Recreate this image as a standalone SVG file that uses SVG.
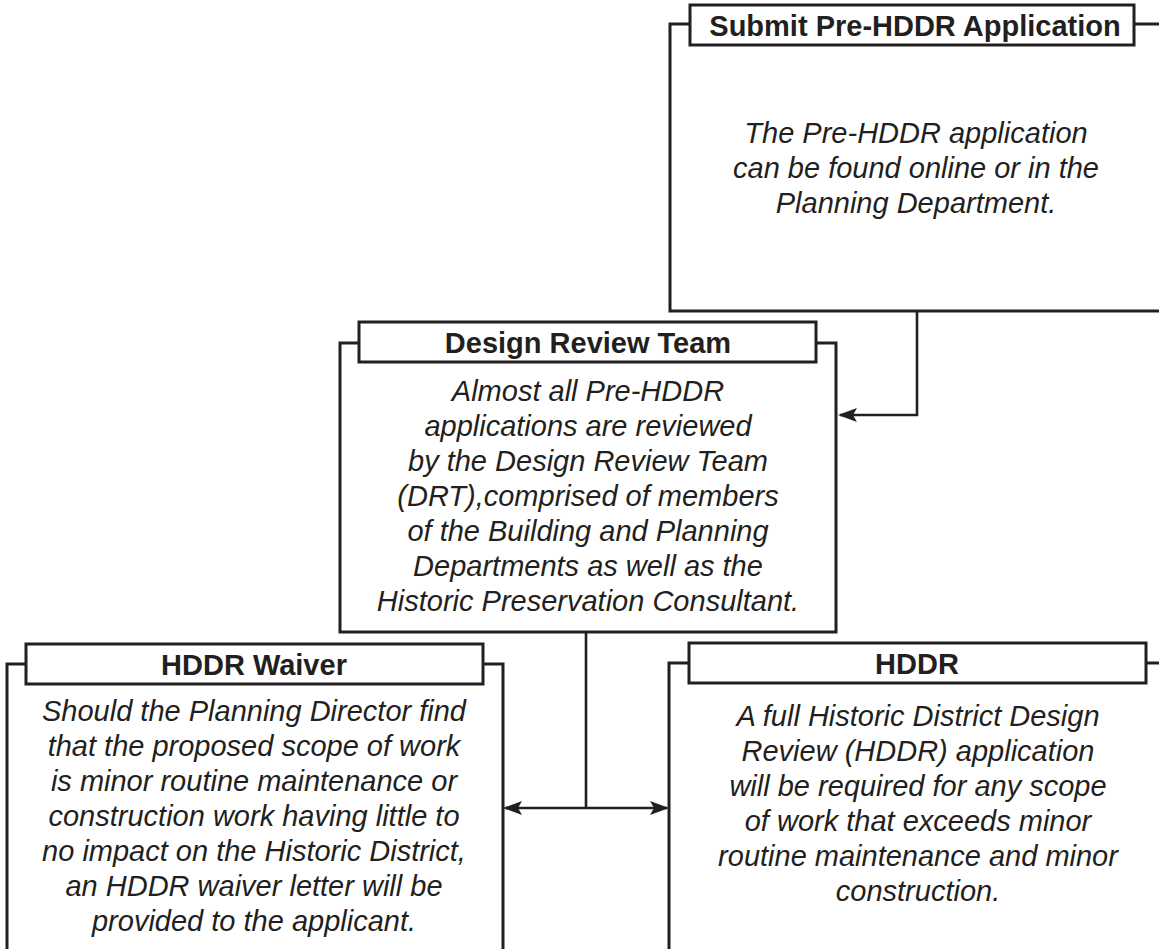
<svg xmlns="http://www.w3.org/2000/svg" width="1159" height="949" viewBox="0 0 1159 949">
<style>
.frame{fill:none;stroke:#231f20;stroke-width:3}
.title{fill:#ffffff;stroke:#231f20;stroke-width:3}
.tt{font-family:"Liberation Sans",Arial,sans-serif;font-weight:bold;font-size:29px;fill:#231f20;text-anchor:middle}
.bt{font-family:"Liberation Sans",Arial,sans-serif;font-style:italic;font-size:29px;fill:#231f20;text-anchor:middle}
.conn{fill:none;stroke:#231f20;stroke-width:2.6}
</style>
<defs>
<marker id="ah" viewBox="0 0 19 14" refX="17" refY="7" markerWidth="19" markerHeight="14" markerUnits="userSpaceOnUse" orient="auto-start-reverse">
<path d="M0,0 L19,7 L0,14 L4,7 z" fill="#231f20"/>
</marker>
</defs>
<rect width="1159" height="949" fill="#ffffff"/>

<g id="connectors">
<path class="conn" d="M917,311 V415 H840" marker-end="url(#ah)"/>
<path class="conn" d="M586,632 V808"/>
<path class="conn" d="M505,808 H667" marker-start="url(#ah)" marker-end="url(#ah)"/>
</g>

<g id="node-submit">
<path class="frame" d="M690,24 H670 V311 H1170"/>
<path class="frame" d="M1134,24 H1170"/>
<rect class="title" x="690" y="5" width="444" height="40"/>
<text class="tt" x="915" y="36">Submit Pre-HDDR Application</text>
<text class="bt" x="916" y="143">The Pre-HDDR application</text>
<text class="bt" x="916" y="178">can be found online or in the</text>
<text class="bt" x="916" y="213">Planning Department.</text>
</g>

<g id="node-drt">
<path class="frame" d="M359,343 H340 V632 H836 V343 H816"/>
<rect class="title" x="359" y="322" width="457" height="40"/>
<text class="tt" x="588" y="353">Design Review Team</text>
<text class="bt" x="588" y="401">Almost all Pre-HDDR</text>
<text class="bt" x="588" y="436">applications are reviewed</text>
<text class="bt" x="588" y="471">by the Design Review Team</text>
<text class="bt" x="588" y="506">(DRT),comprised of members</text>
<text class="bt" x="588" y="541">of the Building and Planning</text>
<text class="bt" x="588" y="576">Departments as well as the</text>
<text class="bt" x="588" y="611">Historic Preservation Consultant.</text>
</g>

<g id="node-waiver">
<path class="frame" d="M26,664 H7 V960"/>
<path class="frame" d="M483,664 H503 V960"/>
<rect class="title" x="26" y="644" width="457" height="40"/>
<text class="tt" x="254" y="675">HDDR Waiver</text>
<text class="bt" x="254" y="721">Should the Planning Director find</text>
<text class="bt" x="254" y="756">that the proposed scope of work</text>
<text class="bt" x="254" y="791">is minor routine maintenance or</text>
<text class="bt" x="254" y="826">construction work having little to</text>
<text class="bt" x="254" y="861">no impact on the Historic District,</text>
<text class="bt" x="254" y="896">an HDDR waiver letter will be</text>
<text class="bt" x="254" y="931">provided to the applicant.</text>
</g>

<g id="node-hddr">
<path class="frame" d="M689,663 H669 V960"/>
<path class="frame" d="M1146,663 H1170"/>
<rect class="title" x="689" y="643" width="457" height="40"/>
<text class="tt" x="917" y="674">HDDR</text>
<text class="bt" x="918" y="726">A full Historic District Design</text>
<text class="bt" x="918" y="761">Review (HDDR) application</text>
<text class="bt" x="918" y="796">will be required for any scope</text>
<text class="bt" x="918" y="831">of work that exceeds minor</text>
<text class="bt" x="918" y="866">routine maintenance and minor</text>
<text class="bt" x="918" y="901">construction.</text>
</g>
</svg>
